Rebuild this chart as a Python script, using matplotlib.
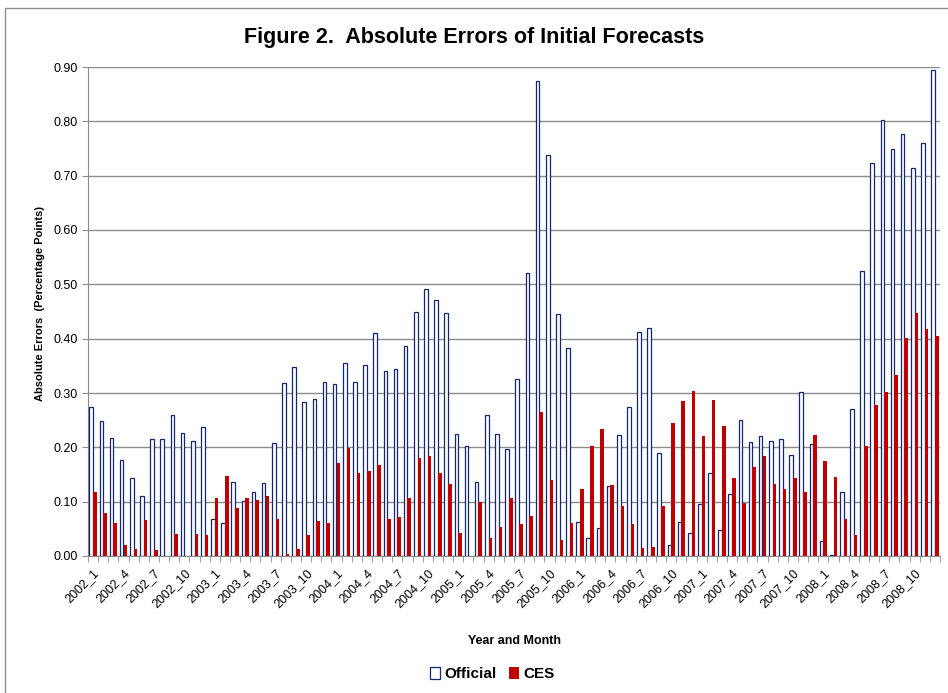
import numpy as np
import matplotlib
matplotlib.use("Agg")
from matplotlib import pyplot as plt
from matplotlib.patches import Rectangle

plt.rcParams['font.family'] = ['Liberation Sans', 'DejaVu Sans']

years = list(range(2002, 2009))
months = [f"{y}_{m}" for y in years for m in range(1, 13)]

official = [0.274, 0.249, 0.218, 0.176, 0.143, 0.111, 0.215, 0.216, 0.260, 0.226, 0.211, 0.237,
            0.069, 0.061, 0.136, 0.101, 0.117, 0.134, 0.208, 0.318, 0.347, 0.283, 0.289, 0.321,
            0.316, 0.356, 0.321, 0.351, 0.410, 0.341, 0.345, 0.387, 0.450, 0.491, 0.472, 0.447,
            0.224, 0.203, 0.136, 0.260, 0.224, 0.197, 0.326, 0.520, 0.874, 0.738, 0.445, 0.382,
            0.063, 0.033, 0.052, 0.128, 0.222, 0.275, 0.413, 0.420, 0.189, 0.021, 0.063, 0.042,
            0.096, 0.152, 0.048, 0.115, 0.250, 0.209, 0.220, 0.211, 0.215, 0.185, 0.302, 0.207,
            0.028, 0.001, 0.118, 0.270, 0.525, 0.724, 0.803, 0.749, 0.777, 0.715, 0.761, 0.895]
ces = [0.118, 0.079, 0.060, 0.021, 0.013, 0.067, 0.011, 0.0, 0.040, 0.0, 0.040, 0.039,
       0.106, 0.148, 0.088, 0.106, 0.103, 0.110, 0.069, 0.004, 0.013, 0.039, 0.065, 0.061,
       0.171, 0.198, 0.153, 0.157, 0.167, 0.069, 0.071, 0.106, 0.180, 0.184, 0.153, 0.133,
       0.042, 0.0, 0.099, 0.034, 0.054, 0.107, 0.058, 0.073, 0.265, 0.140, 0.029, 0.060,
       0.123, 0.203, 0.234, 0.130, 0.092, 0.058, 0.015, 0.017, 0.092, 0.244, 0.286, 0.303,
       0.220, 0.288, 0.240, 0.144, 0.098, 0.163, 0.184, 0.132, 0.123, 0.144, 0.118, 0.222,
       0.174, 0.145, 0.069, 0.039, 0.203, 0.278, 0.301, 0.334, 0.401, 0.447, 0.418, 0.404]

navy = '#13286e'
red = '#c00000'

fig = plt.figure(figsize=(9.48, 6.93), dpi=100)
ax = fig.add_axes([88 / 948, 1 - 556 / 693, 852 / 948, 489 / 693])

x = np.arange(len(months))
w = 0.36
ax.bar(x - w / 2, official, w, facecolor='white', edgecolor=navy, linewidth=0.9, label='Official', zorder=3)
ax.bar(x + w / 2, ces, w, color=red, linewidth=0, label='CES', zorder=3)

ax.set_xlim(-0.5, len(months) - 0.5)
ax.set_ylim(0, 0.9)
ax.set_yticks(np.arange(0, 0.91, 0.1))
ax.set_yticklabels([f"{v:.2f}" for v in np.arange(0, 0.91, 0.1)], fontsize=9)
ax.yaxis.grid(True, color='#8c8c8c', linewidth=1.0, zorder=0)
ax.set_axisbelow(True)

ax.set_xticks(x[::3])
ax.set_xticklabels(months[::3], rotation=45, ha='right', rotation_mode='anchor', fontsize=9)
ax.set_xticks(np.arange(-0.5, len(months), 1), minor=True)
ax.tick_params(axis='x', which='major', length=0, pad=8)
ax.tick_params(axis='x', which='minor', length=4, color='#8c8c8c')
ax.tick_params(axis='y', length=4, color='#8c8c8c')

for s in ['top', 'right']:
    ax.spines[s].set_visible(False)
for s in ['left', 'bottom']:
    ax.spines[s].set_color('#8c8c8c')

ax.set_xlabel('Year and Month', fontsize=9, fontweight='bold', labelpad=18)
ax.set_ylabel('Absolute Errors  (Percentage Points)', fontsize=8, fontweight='bold')
ax.yaxis.set_label_coords(-0.0505, 0.517)

fig.text(0.5, 1 - 37 / 693, 'Figure 2.  Absolute Errors of Initial Forecasts',
         ha='center', va='center', fontsize=15.5, fontweight='bold')

fig.legend(loc='center', bbox_to_anchor=(492 / 948, 1 - 674 / 693), ncol=2, frameon=False,
           prop={'weight': 'bold', 'size': 11}, handlelength=0.7, handleheight=0.9,
           handletextpad=0.25, columnspacing=0.8)

fig.patches.append(Rectangle((5 / 948, -0.01), 1.0, 1 - 8 / 693 + 0.01, transform=fig.transFigure,
                             fill=False, edgecolor='#8c8c8c', linewidth=1.0))

fig.savefig('out.png', dpi=100)
